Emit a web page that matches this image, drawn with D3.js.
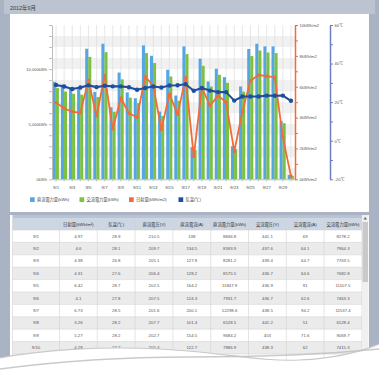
<!DOCTYPE html>
<html><head><meta charset="utf-8">
<script src="https://cdn.jsdelivr.net/npm/d3@7"></script>
<style>
html,body{margin:0;padding:0;background:#fff;}
svg{display:block;font-family:"Liberation Sans","Noto Sans CJK JP",sans-serif;}
</style></head><body>
<svg id="c" width="379" height="371"></svg>
<script>
// ---------- data ----------
const title = "2012年9月";
const days = d3.range(1, 31).map(d => "9/" + d);
const dcPower = [8846.8, 8583.9, 8281.2, 8175.5, 11847.9, 7931.7, 12298.6, 6528.5, 9684.2, 7886.9,
                 7360, 12150, 11210, 6150, 9940, 7600, 12060, 2910, 10940, 8870,
                 10030, 9270, 3000, 8420, 11820, 12300, 12060, 12060, 5300, 390];
const acPower = [8278.2, 7964.3, 7763.5, 7682.8, 11107.5, 7463.3, 11537.4, 6128.4, 9069.7, 7415.3,
                 6910, 11450, 10550, 5750, 9330, 7120, 11360, 2660, 10300, 8420,
                 9480, 8750, 2750, 7960, 11180, 11690, 11510, 11450, 5090, 300];
const solar = [4.97, 4.6, 4.38, 4.31, 6.42, 4.1, 6.73, 3.26, 5.27, 4.28,
               4.02, 6.65, 6.07, 3.22, 5.53, 4.21, 6.59, 1.47, 5.94, 4.77,
               5.42, 4.99, 1.79, 4.38, 6.39, 6.76, 6.68, 6.61, 2.72, 0.21];
const temp = [28.9, 28.1, 26.8, 27.6, 28.7, 27.8, 28.5, 28.2, 28.2, 27.7,
              26.4, 27.3, 28.1, 27.6, 28.6, 28.8, 29.3, 25.9, 27.3, 26.0,
              25.2, 25.2, 20.8, 22.9, 22.9, 22.9, 23.4, 23.3, 23.4, 20.7];
const legendLabels = ["直流電力量(kWh)", "交流電力量(kWh)", "日射量(kWh/m2)", "気温(℃)"];
const leftTickValues = d3.range(0, 14001, 1000);
const leftLabelValues = [0, 5000, 10000];
const solarTickValues = d3.range(0, 11, 1);
const tempTickValues = d3.range(-20, 61, 10);

const tableHeaders = ["日射量(kWh/m²)", "気温(℃)", "直流電圧(V)", "直流電流(A)", "直流電力量(kWh)", "交流電圧(V)", "交流電流(A)", "交流電力量(kWh)"];
const tableRows = 11;
const dcVoltage = [210.5, 209.7, 205.1, 206.4, 202.5, 207.5, 201.6, 207.7, 202.7, 205.4, 206.1];
const dcCurrent = [138, 134.5, 127.8, 128.2, 164.2, 124.3, 200.1, 101.4, 154.5, 122.7, 120.3];
const acVoltage = [441.1, 437.6, 439.4, 436.7, 436.9, 436.7, 438.5, 441.2, 453, 438.3, 436.4];
const acCurrent = [69, 64.1, 64.7, 64.6, 91, 62.6, 94.2, 51, 71.6, 62, 60];

// ---------- colours ----------
const C = {frame:"#a9b3c3", blue:"#55a6e2", green:"#7cc142", orange:"#f26b38", navy:"#1f4e9e", tempAxis:"#6d7ec4"};

const svg = d3.select("#c");
svg.append("rect").attr("width", 379).attr("height", 371).attr("fill", C.frame);
svg.append("rect").attr("x", 4).attr("y", 0).attr("width", 371).attr("height", 14).attr("fill", "#bcc4d1");
svg.append("text").attr("x", 10).attr("y", 10).attr("font-size", 5.4).attr("fill", "#3a3a3a").text(title);
svg.append("rect").attr("x", 10).attr("y", 14).attr("width", 359).attr("height", 198).attr("fill", "#fff");

// ---------- chart ----------
const x = d3.scaleBand().domain(days).range([52, 295]);
const xi = d3.scaleBand().domain(["dc", "ac"]).range([0.8, x.bandwidth() - 1.2]);
const yL = d3.scaleLinear().domain([0, 14000]).range([179.3, 25]);
const yR = d3.scaleLinear().domain([0, 10]).range([179.3, 25]);
const yT = d3.scaleLinear().domain([-20, 60]).range([179.3, 25]);
const cx = d => x(d) + x.bandwidth() / 2;

const g = svg.append("g");
g.selectAll("rect.band").data(d3.range(0, 14000, 2000)).join("rect").attr("class", "band")
  .attr("x", 52).attr("width", 243)
  .attr("y", d => yL(d + 1000)).attr("height", d => yL(d) - yL(d + 1000))
  .attr("fill", "#f1f1f1");
g.selectAll("line.vg").data(days).join("line").attr("class", "vg")
  .attr("x1", cx).attr("x2", cx).attr("y1", 25).attr("y2", 179.3)
  .attr("stroke", "#dedede").attr("stroke-width", 0.7);

g.selectAll("rect.dc").data(days).join("rect").attr("class", "dc")
  .attr("x", d => x(d) + xi("dc")).attr("width", xi.bandwidth())
  .attr("y", (d, i) => yL(dcPower[i])).attr("height", (d, i) => yL(0) - yL(dcPower[i]))
  .attr("fill", C.blue);
g.selectAll("rect.ac").data(days).join("rect").attr("class", "ac")
  .attr("x", d => x(d) + xi("ac")).attr("width", xi.bandwidth())
  .attr("y", (d, i) => yL(acPower[i])).attr("height", (d, i) => yL(0) - yL(acPower[i]))
  .attr("fill", C.green);

const lineS = d3.line().x((v, i) => cx(days[i])).y(v => yR(v));
g.append("path").datum(solar).attr("d", lineS).attr("fill", "none")
  .attr("stroke", C.orange).attr("stroke-width", 1.8).attr("stroke-linejoin", "round");
g.selectAll("circle.s").data(solar).join("circle").attr("class", "s")
  .attr("cx", (v, i) => cx(days[i])).attr("cy", v => yR(v)).attr("r", 1.7).attr("fill", C.orange);

const lineT = d3.line().x((v, i) => cx(days[i])).y(v => yT(v));
g.append("path").datum(temp).attr("d", lineT).attr("fill", "none")
  .attr("stroke", C.navy).attr("stroke-width", 2.1).attr("stroke-linejoin", "round");
g.selectAll("circle.t").data(temp).join("circle").attr("class", "t")
  .attr("cx", (v, i) => cx(days[i])).attr("cy", v => yT(v)).attr("r", 2.2).attr("fill", C.navy);

function styleAxis(sel, color, fs) {
  sel.selectAll("text").attr("font-size", fs).attr("fill", "#555").attr("font-family", '"Liberation Sans","Noto Sans CJK JP",sans-serif');
  sel.selectAll("line").attr("stroke", color);
  sel.select(".domain").attr("stroke", color);
}
const axL = svg.append("g").attr("transform", "translate(52,0)")
  .call(d3.axisLeft(yL).tickValues(leftTickValues).tickSize(3).tickSizeOuter(0).tickPadding(2)
    .tickFormat(v => leftLabelValues.includes(v) ? d3.format(",")(v) + "kWh" : ""));
styleAxis(axL, "#bdbdbd", 4.1);

const axB = svg.append("g").attr("transform", "translate(0,179.3)")
  .call(d3.axisBottom(x).tickSize(2).tickSizeOuter(0).tickPadding(5)
    .tickFormat((d, i) => i % 2 === 0 ? d : ""));
styleAxis(axB, "#bdbdbd", 4.4);

const axR = svg.append("g").attr("transform", "translate(295,0)")
  .call(d3.axisRight(yR).tickValues(solarTickValues).tickSize(3).tickSizeOuter(0).tickPadding(1.5)
    .tickFormat(v => v % 2 === 0 ? v + "kWh/m2" : ""));
styleAxis(axR, C.orange, 4.1);
axR.select(".domain").attr("stroke-width", 1.5);

const axT = svg.append("g").attr("transform", "translate(330,0)")
  .call(d3.axisRight(yT).tickValues(tempTickValues).tickSize(3).tickSizeOuter(0).tickPadding(1.5)
    .tickFormat(v => v % 20 === 0 ? v + "℃" : ""));
styleAxis(axT, C.tempAxis, 4.1);
axT.select(".domain").attr("stroke-width", 1.5);

const legColors = [C.blue, C.green, C.orange, C.navy];
const legX = d3.scalePoint().domain(legendLabels).range([30, 178.5]);
const lg = svg.selectAll("g.leg").data(legendLabels).join("g").attr("class", "leg")
  .attr("transform", d => `translate(${legX(d)},197.3)`);
lg.append("rect").attr("width", 4.7).attr("height", 4.7).attr("fill", (d, i) => legColors[i]);
lg.append("text").attr("x", 7).attr("y", 4.1).attr("font-size", 4.2).attr("fill", "#444").text(d => d);

// ---------- table ----------
const tg = svg.append("g");
tg.append("rect").attr("x", 10).attr("y", 215).attr("width", 359).attr("height", 160).attr("fill", "#fff");
tg.append("rect").attr("x", 12.5).attr("y", 215).attr("width", 349.5).attr("height", 3).attr("fill", "#b8c3d3");
const colEdges = [12.5, 59.5].concat(d3.range(1, 9).map(k => 59.5 + k * 37.8));
const rowY = d3.scaleLinear().domain([0, 1]).range([230, 242.4]);
tg.append("rect").attr("x", 12.5).attr("y", 218).attr("width", 349.5).attr("height", 12).attr("fill", "#cdd6e3");
const rowLabels = d3.range(1, tableRows + 1).map(d => "9/" + d);
tg.selectAll("rect.row").data(rowLabels).join("rect").attr("class", "row")
  .attr("x", 12.5).attr("width", 349.5).attr("y", (d, i) => rowY(i)).attr("height", 12.4)
  .attr("fill", (d, i) => i % 2 ? "#ebebeb" : "#fff");
tg.selectAll("line.h").data(d3.range(0, tableRows + 1)).join("line").attr("class", "h")
  .attr("x1", 12.5).attr("x2", 362).attr("y1", i => rowY(i)).attr("y2", i => rowY(i))
  .attr("stroke", "#d4d4d4").attr("stroke-width", 0.6);
tg.selectAll("line.v").data(colEdges).join("line").attr("class", "v")
  .attr("x1", d => d).attr("x2", d => d).attr("y1", 218).attr("y2", 375)
  .attr("stroke", "#d2d2d2").attr("stroke-width", 0.6);
tg.selectAll("text.hd").data(tableHeaders).join("text").attr("class", "hd")
  .attr("x", (d, i) => (colEdges[i + 1] + colEdges[i + 2]) / 2).attr("y", 225.5)
  .attr("text-anchor", "middle").attr("font-size", 4.3).attr("fill", "#333").text(d => d);
const cols = [solar, temp, dcVoltage, dcCurrent, dcPower, acVoltage, acCurrent, acPower];
rowLabels.forEach((lab, r) => {
  tg.append("text").attr("x", 36).attr("y", rowY(r) + 7.6).attr("text-anchor", "middle")
    .attr("font-size", 4.3).attr("fill", "#555").text(lab);
  cols.forEach((arr, c) => {
    tg.append("text").attr("x", (colEdges[c + 1] + colEdges[c + 2]) / 2).attr("y", rowY(r) + 7.6)
      .attr("text-anchor", "middle").attr("font-size", 4.3).attr("fill", "#555").text(String(arr[r]));
  });
});
tg.append("rect").attr("x", 362).attr("y", 215).attr("width", 6.5).attr("height", 160).attr("fill", "#f0f0f0");
tg.append("rect").attr("x", 362.5).attr("y", 222).attr("width", 5.5).attr("height", 60).attr("fill", "#c9c9c9");
tg.append("path").attr("d", "M363.5,219.5 L365.2,217 L367,219.5 Z").attr("fill", "#666");

// ---------- curled bottom ----------
const edge = "M0,358 C40,350 100,346 160,349 C220,352 260,362 300,360 C340,358 365,350 379,344";
svg.append("path").attr("d", edge + " L379,371 L0,371 Z").attr("fill", "#fff");
svg.append("path").attr("d", edge).attr("fill", "none").attr("stroke", "#c9c9c9").attr("stroke-width", 1.2);
svg.append("path").attr("d", "M0,369 C60,361 130,357 190,357 C260,357 330,354 379,349")
  .attr("fill", "none").attr("stroke", "#bdbdbd").attr("stroke-width", 1.6).attr("opacity", 0.8);
</script>
</body></html>
